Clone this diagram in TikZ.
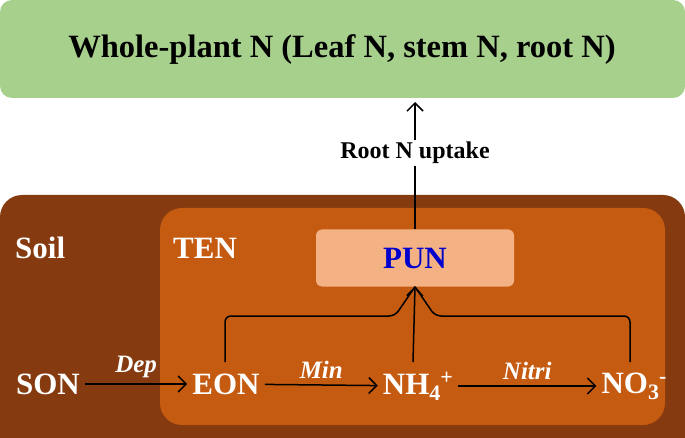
\documentclass[tikz,border=0pt]{standalone}
\usepackage{fontspec}
\setmainfont{Liberation Serif}
\usetikzlibrary{positioning,arrows.meta}
\definecolor{leafgreen}{RGB}{168,208,141}
\definecolor{soilbrown}{RGB}{133,58,15}
\definecolor{tenorange}{RGB}{197,90,17}
\definecolor{punsalmon}{RGB}{244,177,131}
\definecolor{punblue}{RGB}{0,0,204}
\tikzset{
  box/.style={rounded corners=12pt, draw=none},
  pool/.style={text=white, font=\bfseries\fontsize{31}{34}\selectfont, inner sep=1pt},
  flux/.style={text=white, font=\bfseries\itshape\fontsize{25}{27}\selectfont},
  tip/.style={-{Straight Barb[length=8pt, width=16pt]}},
  flow/.style={tip, line width=1.5pt, shorten >=4pt, shorten <=4pt}
}
\begin{document}
\begin{tikzpicture}[x=1pt, y=-1pt]
\useasboundingbox (0,0) rectangle (685,438);
% boxes
\fill[leafgreen, box] (0,0) rectangle (685,98);
\fill[soilbrown, box, rounded corners=22pt] (0,195) rectangle (685,460);
\fill[tenorange, box, rounded corners=22pt] (160,208) rectangle (665,425);
\node[fill=punsalmon, rounded corners=6pt, minimum width=198pt, minimum height=57pt] (pun) at (415,258)
  {\textcolor{punblue}{\bfseries\fontsize{31}{34}\selectfont PUN}};
\node[font=\bfseries\fontsize{32.5}{35}\selectfont] (plant) at (342,50) {Whole-plant N (Leaf N, stem N, root N)};
\node[pool, anchor=west] (soil) at (14,248) {Soil};
\node[pool, anchor=west] (ten) at (172,248) {TEN};
\coordinate (top) at (415,102);
% pools
\node[pool] (son) at (48,384) {SON};
\node[pool] (eon) at (226,384) {EON};
\node[pool] (nh) at (418,386) {NH\raisebox{-6pt}{\fontsize{22}{24}\selectfont 4}\raisebox{10pt}{\fontsize{22}{24}\selectfont +}};
\node[pool] (no) at (634,386) {NO\raisebox{-6pt}{\fontsize{22}{24}\selectfont 3}\raisebox{10pt}{\fontsize{22}{24}\selectfont -}};
% fluxes
\draw[flow] (son) -- node[flux, above=2pt] {Dep} (eon);
\draw[flow] (eon) -- node[flux, above=2pt] {Min} (nh);
\draw[flow] (nh) -- node[flux, above=2pt] {Nitri} (no);
\draw[line width=1.5pt, rounded corners=6pt] (225,362) -- (225,316) -- (395,316) -- (pun.south);
\draw[line width=1.5pt, rounded corners=6pt] (630,362) -- (630,316) -- (435,316) -- (pun.south);
\draw[tip, line width=1.5pt] (413,362) -- (pun.south);
\draw[tip, line width=1.5pt] (pun.north) -- node[fill=white, font=\bfseries\fontsize{24}{26}\selectfont, pos=0.6, inner sep=2pt] {Root N uptake} (top);
\end{tikzpicture}
\end{document}
